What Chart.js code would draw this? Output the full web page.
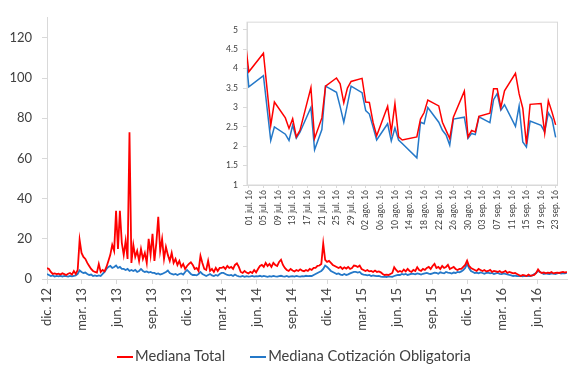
<!DOCTYPE html>
<html><head><meta charset="utf-8">
<script src="https://cdn.jsdelivr.net/npm/chart.js@4.4.0/dist/chart.umd.min.js"></script>
<style>
html,body{margin:0;padding:0;background:#fff;overflow:hidden;width:568px;height:365px;position:relative;}
#main{position:absolute;left:0;top:0;width:568px;height:365px;}
#inset{position:absolute;left:215px;top:12px;width:353px;height:228px;}
#legend{position:absolute;left:117px;top:345px;height:20px;line-height:20px;white-space:nowrap;
  font-family:Lato,'Open Sans',sans-serif;font-size:14.7px;color:#404040;}
#legend .item{display:inline-block;margin-right:25px;}
#legend .swatch{display:inline-block;width:16px;height:2px;vertical-align:middle;margin-right:2px;}
</style></head><body>
<div id="main"><canvas id="c1"></canvas></div>
<div id="inset"><canvas id="c2"></canvas></div>
<div id="legend"></div>
<script>
// ---------------- MAIN CHART DATA (one value every 5 days from 1 Dec 2012) ----------------
const seriesNames = ['Mediana Total', 'Mediana Cotización Obligatoria'];
const mainStart = '2012-12-01';
const mainStepDays = 5;
const mainTotal = [
 5.4,5,3.5,2.5,2.8,2.4,2.6,2.2,2.8,2.4,
 2.0,2.6,3.0,2.2,4.0,2.5,4.5,19.5,13,11,
 10,8,6.5,5,4,3.5,3.2,7.5,3.5,4.5,
 3.8,6,9,12,17,14,33.9,15,34,18,
 12,19,10,73,8,17,11,14,9,15,
 10,13,8,20,12,22.5,9,18,31,14,
 20,10,16,12,9,13,8,10,7,9,
 6,7.5,5,6.5,7.5,8.3,7,5,5.5,4,
 11.5,8,5,4.5,9,4,5,3.5,5.5,4,
 5.5,5.5,6,5,6.5,5.5,6,5,7,7.8,
 6,3.5,3,4,3.2,2.8,3.6,3,4.5,3.3,
 5,6.5,7,6,8,6.5,7.5,6,8,7,
 6.5,8.5,9.6,7,5.5,4.5,4,5,4.2,3.8,
 4.5,4,4.8,4.2,3.9,4.5,4,5,4.5,5.5,
 5.5,6.5,6.7,7.5,17.6,9.5,8.5,9,8,7,
 6.5,6,5.5,6,5,5.8,5.2,6,5,5.5,
 6.7,6.5,6,6.7,5,4.5,4,4.5,3.8,4,
 3.5,4.2,3.5,3.8,3.3,2.5,2,2.2,2,2.5,
 3,5.9,4.5,3.5,4,3.5,4.7,3.8,5,4,
 3.5,4.5,4,5.9,4.5,4,5,4.5,5.5,6,
 5,6.5,7.5,5.5,6,5,6.5,5.5,6,7,
 5,5.5,6,5,4.5,5,5,6,7,9.1,
 6.5,5.5,5,4.5,4,5,4.5,4,4.5,3.8,
 4,4.5,3.5,4,3.8,3.5,4,3.2,3.5,4,
 3,3.5,3.2,2.8,3,2.5,2,1.5,2,1.8,
 1.5,2.2,1.6,1.8,2,3,4.8,3.5,3,3.3,
 2.8,3.2,3,3.5,2.8,3,3.2,3,3.3,3.5,3.2,3.5
];
const mainObligatoria = [
 2.5,2,1.5,1.8,1.2,1.5,1.3,1.6,1.2,1.5,
 1.4,1.2,1.5,1.3,1.6,1.8,2.5,4.3,3.5,3,
 3.2,2.5,2,2.2,1.5,1.8,1.5,1.8,1.5,2.5,
 3.5,5,6,6.5,5.5,6,6.7,5.5,6,5,
 5,4.5,5,4,4.5,4,4.5,3.5,4,5,
 4,3.5,3.8,3.2,3.5,3,3,2.5,2.8,2.2,
 2.5,3,3.5,4.2,3,2.5,2.2,2.5,2,2.5,
 2.8,2.2,3.5,4.5,3.5,2.5,2,2,1.8,2.5,
 3.5,2.5,2,1.5,2,2.5,1.8,1.5,2,1.6,
 2.5,3,3,2.5,2,1.8,2,1.5,2.2,1.6,
 1.3,1.2,1.5,1.1,1.4,1.2,1.3,1.5,1.2,1.4,
 1.3,1.6,1.2,1.5,1.3,1.1,1.4,1.2,1.5,1.3,
 1.2,1.4,1.6,1.3,1.2,1.5,1.1,1.3,1.4,1.2,
 1.5,1.3,1.2,1.4,1.3,1.6,1.4,1.5,1.5,2,
 2.5,3,3.5,4,5,6.7,6,5,4,3.5,
 3,2.5,2.8,2.2,2,2.5,2,2.3,2.8,3.2,
 3.5,3.5,3.2,3.5,2.5,2.2,2,1.8,2,1.5,
 1.8,1.6,1.4,1.5,1.2,1.1,1.2,1,1.3,1.2,
 1.1,1.5,1.8,2,2,2.5,2.2,2.5,2,2.3,
 2.6,2.5,2.3,2.8,2.5,2.2,2.6,2.8,3,2.7,
 2.5,2.8,3.2,3,2.6,3.3,3,2.8,3.5,3.2,
 3,2.7,3.2,3,3.5,3.3,3.8,4.5,5.5,7.5,
 5.5,4,3.5,3,3.2,2.8,3.3,3,2.6,3,
 3.2,2.8,3,2.5,2.8,3,2.6,2.4,2.8,2.5,
 2.3,2,1.8,1.5,1.7,1.5,1.4,1.6,1.3,1.5,
 1.4,1.6,1.5,1.8,2.5,3,4,3.5,3,2.5,
 2.8,2.6,2.5,2.8,2.7,2.5,2.8,3,2.7,2.9,2.8,3
];
const mainTickLabels = ['dic. 12','mar. 13','jun. 13','sep. 13','dic. 13','mar. 14','jun. 14','sep. 14','dic. 14','mar. 15','jun. 15','sep. 15','dic. 15','mar. 16','jun. 16'];
const mainTickDates = ['2012-12-01','2013-03-01','2013-06-01','2013-09-01','2013-12-01','2014-03-01','2014-06-01','2014-09-01','2014-12-01','2015-03-01','2015-06-01','2015-09-01','2015-12-01','2016-03-01','2016-06-01'];
const mainYTicks = [0,20,40,60,80,100,120];
const mainEndDate = '2016-08-20';

// ---------------- INSET DATA (daily, Jul–Sep 2016) ----------------
const insetDates = ['2016-06-30','2016-07-01','2016-07-05','2016-07-07','2016-07-08','2016-07-11','2016-07-12','2016-07-13','2016-07-14','2016-07-15',
 '2016-07-18','2016-07-19','2016-07-21','2016-07-22','2016-07-25','2016-07-26','2016-07-27','2016-07-28','2016-07-29',
 '2016-08-01','2016-08-02','2016-08-03','2016-08-04','2016-08-05','2016-08-08','2016-08-09','2016-08-10','2016-08-11','2016-08-12',
 '2016-08-16','2016-08-17','2016-08-18','2016-08-19','2016-08-22','2016-08-23','2016-08-24','2016-08-25','2016-08-26',
 '2016-08-29','2016-08-30','2016-08-31','2016-09-01','2016-09-02','2016-09-05','2016-09-06','2016-09-07','2016-09-08','2016-09-09',
 '2016-09-12','2016-09-13','2016-09-14','2016-09-15','2016-09-16','2016-09-19','2016-09-20','2016-09-21','2016-09-22','2016-09-23'];
const insetTotal = [4.72,3.92,4.40,2.54,3.14,2.73,2.46,2.71,2.24,2.41,
 3.51,2.20,2.73,3.55,3.76,3.61,3.12,3.50,3.67,
 3.75,3.14,3.13,2.62,2.27,3.03,2.37,3.10,2.24,2.16,
 2.24,2.70,2.87,3.19,3.04,2.62,2.41,2.20,2.75,
 3.42,2.24,2.41,2.37,2.77,2.85,3.48,3.48,3.00,3.43,
 3.88,3.35,2.98,2.05,3.08,3.10,2.34,3.17,2.88,2.55];
const insetObligatoria = [4.49,3.53,3.82,2.15,2.50,2.31,2.15,2.54,2.21,2.36,
 3.00,1.91,2.43,3.55,3.39,3.02,2.62,3.08,3.55,
 3.38,2.92,2.83,2.50,2.16,2.58,2.14,2.47,2.16,2.07,
 1.70,2.62,2.58,3.00,2.62,2.41,2.29,2.03,2.70,
 2.75,2.20,2.33,2.30,2.76,2.61,3.20,3.36,2.93,3.07,
 2.51,3.04,2.11,1.98,2.65,2.54,2.37,2.86,2.70,2.23];
const insetTickLabels = ['01 jul. 16','05 jul. 16','09 jul. 16','13 jul. 16','17 jul. 16','21 jul. 16','25 jul. 16','29 jul. 16',
 '02 ago. 16','06 ago. 16','10 ago. 16','14 ago. 16','18 ago. 16','22 ago. 16','26 ago. 16','30 ago. 16',
 '03 sep. 16','07 sep. 16','11 sep. 16','15 sep. 16','19 sep. 16','23 sep. 16'];
const insetTickDates = ['2016-07-01','2016-07-05','2016-07-09','2016-07-13','2016-07-17','2016-07-21','2016-07-25','2016-07-29',
 '2016-08-02','2016-08-06','2016-08-10','2016-08-14','2016-08-18','2016-08-22','2016-08-26','2016-08-30',
 '2016-09-03','2016-09-07','2016-09-11','2016-09-15','2016-09-19','2016-09-23'];
const insetYTicks = ['1','1.5','2','2.5','3','3.5','4','4.5','5'];

// ---------------- helpers ----------------
const DAY = 86400000;
const dayFrom = (origin, s) => Math.round((Date.parse(s) - Date.parse(origin)) / DAY);
const RED = '#FF0000', BLUE = '#2478C8', AXIS = '#D9D9D9', TXT = '#404040';
const FONT = "Lato, 'Open Sans', sans-serif";

const redPts = mainTotal.map((v, i) => ({x: i * mainStepDays, y: v}));
const bluePts = mainObligatoria.map((v, i) => ({x: i * mainStepDays, y: v}));
const mainTickDays = mainTickDates.map(s => dayFrom(mainStart, s));

const mainChart = new Chart(document.getElementById('c1'), {
  type: 'line',
  data: { datasets: [
    {label: seriesNames[0], data: redPts, borderColor: RED, backgroundColor: RED, borderWidth: 1.8, pointRadius: 0, tension: 0},
    {label: seriesNames[1], data: bluePts, borderColor: BLUE, backgroundColor: BLUE, borderWidth: 1.8, pointRadius: 0, tension: 0}
  ]},
  options: {
    responsive: true, maintainAspectRatio: false, animation: false, devicePixelRatio: 1,
    layout: {padding: {top: 7, left: 0, right: 0, bottom: 26}},
    plugins: { legend: {display: false}, tooltip: {enabled: false} },
    scales: {
      x: {
        type: 'linear', min: 0, max: dayFrom(mainStart, mainEndDate),
        afterBuildTicks: s => { s.ticks = mainTickDays.map(v => ({value: v})); },
        ticks: {autoSkip: false, minRotation: 90, maxRotation: 90, padding: 4, color: TXT, font: {family: FONT, size: 13},
                callback: (v, i) => mainTickLabels[i]},
        grid: {drawOnChartArea: false, drawTicks: true, tickLength: 5, tickColor: AXIS},
        border: {color: AXIS, width: 1},
        afterFit: s => { s.height = 60; }
      },
      y: {
        min: 0, max: 130,
        afterBuildTicks: s => { s.ticks = mainYTicks.map(v => ({value: v})); },
        ticks: {padding: 10, color: TXT, font: {family: FONT, size: 13}},
        grid: {drawOnChartArea: false, drawTicks: true, tickLength: 5, tickColor: AXIS},
        border: {color: AXIS, width: 1},
        afterFit: s => { s.width = 47; }
      }
    }
  }
});

// HTML legend built from the chart's datasets
const legendEl = document.getElementById('legend');
mainChart.data.datasets.forEach(ds => {
  const item = document.createElement('span'); item.className = 'item';
  const sw = document.createElement('span'); sw.className = 'swatch'; sw.style.background = ds.borderColor;
  item.appendChild(sw); item.appendChild(document.createTextNode(ds.label));
  legendEl.appendChild(item);
});

// ---------------- inset ----------------
const insetOrigin = '2016-07-01';
const insetRedPts = insetTotal.map((v, i) => ({x: dayFrom(insetOrigin, insetDates[i]), y: v}));
const insetBluePts = insetObligatoria.map((v, i) => ({x: dayFrom(insetOrigin, insetDates[i]), y: v}));
const insetTickDays = insetTickDates.map(s => dayFrom(insetOrigin, s));
const insetYVals = insetYTicks.map(Number);

const framePlugin = {
  id: 'frame',
  beforeDatasetsDraw(chart) {
    const {ctx, chartArea: a} = chart;
    ctx.save();
    ctx.strokeStyle = AXIS; ctx.lineWidth = 1;
    ctx.strokeRect(a.left, a.top, a.right - a.left, a.bottom - a.top);
    ctx.restore();
  }
};

new Chart(document.getElementById('c2'), {
  type: 'line',
  data: { datasets: [
    {label: seriesNames[0], data: insetRedPts, borderColor: RED, borderWidth: 1.5, pointRadius: 0, tension: 0},
    {label: seriesNames[1], data: insetBluePts, borderColor: BLUE, borderWidth: 1.5, pointRadius: 0, tension: 0}
  ]},
  plugins: [framePlugin],
  options: {
    responsive: true, maintainAspectRatio: false, animation: false, devicePixelRatio: 1,
    layout: {padding: {top: 6, left: 0, right: 5, bottom: 0}},
    plugins: {legend: {display: false}, tooltip: {enabled: false}},
    scales: {
      x: {
        type: 'linear', min: -0.5, max: 84.5,
        afterBuildTicks: s => { s.ticks = insetTickDays.map(v => ({value: v})); },
        ticks: {autoSkip: false, minRotation: 90, maxRotation: 90, padding: 2, color: TXT, font: {family: FONT, size: 8.6},
                callback: (v, i) => insetTickLabels[i]},
        grid: {drawOnChartArea: false, drawTicks: true, tickLength: 3, tickColor: AXIS},
        border: {color: AXIS, width: 1},
        afterFit: s => { s.height = 55; }
      },
      y: {
        min: 1, max: 5.2,
        afterBuildTicks: s => { s.ticks = insetYVals.map(v => ({value: v})); },
        ticks: {padding: 5, color: TXT, font: {family: FONT, size: 8.6}, callback: (v, i) => insetYTicks[i]},
        grid: {drawOnChartArea: false, drawTicks: true, tickLength: 4, tickColor: AXIS},
        border: {color: AXIS, width: 1},
        afterFit: s => { s.width = 32; }
      }
    }
  }
});
</script>
</body></html>
